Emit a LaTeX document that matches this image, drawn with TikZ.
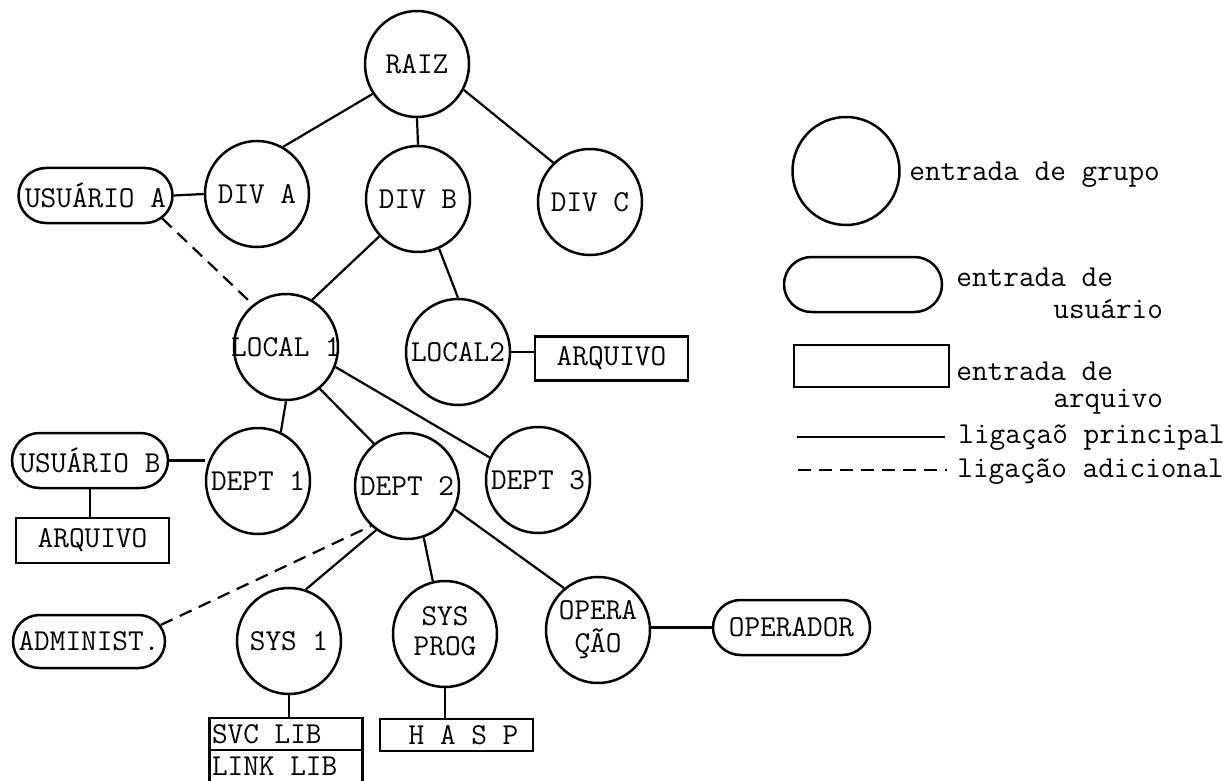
\documentclass[tikz,border=0pt]{standalone}
\usepackage{fontspec}
\usetikzlibrary{shapes.geometric,shapes.misc}
\newcommand\ztext[1]{\makebox[0pt]{#1}}
\newcommand\twolines[2]{\makebox[0pt]{\begin{tabular}{@{}c@{}}#1\\#2\end{tabular}}}
\begin{document}
\begin{tikzpicture}[x=0.5pt,y=-0.5pt,
  every node/.style={font=\fontsize{15.2}{15}\selectfont\ttfamily},
  grp/.style={ellipse,draw,line width=1.25pt,minimum width=52pt,minimum height=53pt,inner sep=0pt},
  usr/.style={rounded rectangle,draw,line width=1.25pt,minimum width=77pt,minimum height=27.5pt,inner sep=0pt},
  arq/.style={rectangle,draw,line width=1.25pt,minimum width=76.5pt,minimum height=22pt,inner sep=0pt},
  link/.style={line width=1.1pt},
  extra/.style={line width=1.1pt,dash pattern=on 6.5pt off 4pt},
  lgd/.style={anchor=base west,inner sep=0pt}
]
\useasboundingbox (0,0) rectangle (1232,781);
% group entries
\node[grp] (raiz) at (417,64) {\ztext{RAIZ}};
\node[grp] (diva) at (257,194) {\ztext{DIV A}};
\node[grp] (divb) at (418,199) {\ztext{DIV B}};
\node[grp] (divc) at (590,202) {\ztext{DIV C}};
\node[grp] (local1) at (286,347) {\ztext{LOCAL 1}};
\node[grp] (local2) at (458,352) {\ztext{LOCAL2}};
\node[grp] (dept1) at (258,481) {\ztext{DEPT 1}};
\node[grp] (dept2) at (407,486) {\ztext{DEPT 2}};
\node[grp] (dept3) at (538,480) {\ztext{DEPT 3}};
\node[grp] (sys1) at (289,641) {\ztext{SYS 1}};
\node[grp] (sysprog) at (445,634) {\twolines{SYS}{PROG}};
\node[grp] (oper) at (598,630) {\twolines{OPERA}{ÇÃO}};
% user entries
\node[usr] (usua) at (95.5,195.5) {\ztext{USUÁRIO A}};
\node[usr,minimum width=78pt] (usub) at (90,460.5) {\ztext{USUÁRIO B}};
\node[usr,minimum width=76pt,minimum height=26.5pt] (admin) at (89,641.5) {\ztext{ADMINIST.}};
\node[usr,minimum width=78.5pt] (opdor) at (791.5,627.5) {\ztext{OPERADOR}};
% file entries
\node[arq] (arqr) at (611.5,358.5) {\ztext{ARQUIVO}};
\node[arq,minimum height=22.5pt] (arql) at (92.5,540.5) {\ztext{ARQUIVO}};
\node[arq,minimum height=16pt] (svc) at (286,734) {\ztext{\makebox[74pt][l]{SVC LIB}}};
\node[arq,minimum height=16pt] (lnk) at (286,766) {\ztext{\makebox[74pt][l]{LINK LIB}}};
\node[arq,minimum height=16pt] (hasp) at (456.5,735) {\ztext{\hspace{7pt}H A S P}};
% connectors
\draw[link] (raiz.214) -- (diva.61);
\draw[link] (raiz.south) -- (divb.north);
\draw[link] (raiz.-29) -- (divc.133);
\draw[link] (usua.east) -- (diva.west);
\draw[extra] (usua.-19) -- (local1.128);
\draw[link] (divb.224) -- (local1.61);
\draw[link] (divb.-67) -- (local2.90);
\draw[link] (local2.east) -- (local2.east -| arqr.west);
\draw[link] (local1.-90) -- (dept1.65);
\draw[link] (local1.-51) -- (dept2.128);
\draw[link] (local1.-22) -- (dept3.155);
\draw[link] (usub.east) -- (usub.east -| dept1.west);
\draw[link] (usub.south) -- (usub.south |- arql.north);
\draw[extra] (admin.13) -- (dept2.228);
\draw[link] (dept2.-125) -- (sys1.72);
\draw[link] (dept2.-72) -- (sysprog.103);
\draw[link] (dept2.-26) -- (oper.129);
\draw[link] (oper.east |- opdor.west) -- (opdor.west);
\draw[link] (sys1.south) -- (sys1.south |- svc.north);
\draw[link] (sysprog.south) -- (sysprog.south |- hasp.north);
% legend
\node[grp,minimum width=53.5pt,minimum height=54pt] (lgrp) at (846,171) {};
\node[usr,minimum width=79pt] (lusr) at (863,284.5) {};
\node[arq,minimum width=77.5pt,minimum height=21pt] (larq) at (871.5,366) {};
\node[lgd] (tg) at (909,180) {entrada de grupo};
\node[lgd] (tu1) at (956,286) {entrada de};
\node[lgd] (tu2) at (1053,318) {usuário};
\node[lgd] (ta1) at (956,380) {entrada de};
\node[lgd] (ta2) at (1053,407) {arquivo};
\coordinate (ls1) at (797,437);
\coordinate (ls2) at (945,437);
\draw[link] (ls1) -- (ls2);
\node[lgd] (tl1) at (958,443) {ligaçaõ principal};
\coordinate (ld1) at (798,470);
\coordinate (ld2) at (947,470);
\draw[extra] (ld1) -- (ld2);
\node[lgd] (tl2) at (957,477) {ligação adicional};
\end{tikzpicture}
\end{document}
